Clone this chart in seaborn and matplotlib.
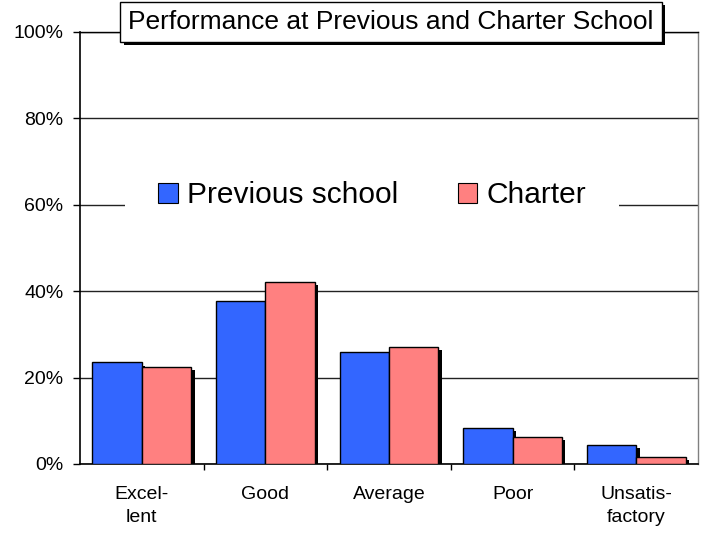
import matplotlib
matplotlib.use("Agg")
import matplotlib.pyplot as plt
import matplotlib.patheffects as pe
import seaborn as sns
import pandas as pd
from matplotlib.ticker import FixedLocator, FuncFormatter

categories = ["Excel-\nlent", "Good", "Average", "Poor", "Unsatis-\nfactory"]
series_names = ["Previous school", "Charter"]
previous_school = [23.5, 37.7, 25.9, 8.3, 4.4]
charter = [22.5, 42.2, 27.1, 6.2, 1.7]
y_ticks = [0, 20, 40, 60, 80, 100]
title = "Performance at Previous and Charter School"

df = pd.DataFrame({
    "cat": categories * 2,
    "val": previous_school + charter,
    "school": [series_names[0]] * 5 + [series_names[1]] * 5,
})

sns.set_theme(style="white")
plt.rcParams["font.family"] = ["Liberation Sans", "DejaVu Sans"]
plt.rcParams["text.color"] = "black"
plt.rcParams["xtick.color"] = "black"
plt.rcParams["ytick.color"] = "black"
plt.rcParams["axes.labelcolor"] = "black"

fig = plt.figure(figsize=(7.06, 5.35), dpi=100)
ax = fig.add_axes([80/706, 1-464/535, 618/706, 432/535])

sns.barplot(data=df, x="cat", y="val", hue="school", palette=["#3366FF", "#FF8080"],
            width=0.8, edgecolor="black", linewidth=1, saturation=1, ax=ax, zorder=3)

shadow = [pe.SimplePatchShadow(offset=(2.4, -2.2), shadow_rgbFace="black", alpha=1.0), pe.Normal()]
for p in ax.patches:
    p.set_path_effects(shadow)

ax.set_ylim(0, 100)
ax.set_xlim(-0.5, 4.5)
ax.set_yticks(y_ticks)
ax.yaxis.set_major_formatter(FuncFormatter(lambda v, _: f"{int(v)}%"))
ax.set_xlabel("")
ax.set_ylabel("")
ax.yaxis.grid(True, color="#222222", linewidth=1)
ax.set_axisbelow(True)
for g in ax.get_ygridlines():
    g.set_zorder(0)

ax.tick_params(axis="y", which="major", direction="out", length=5, width=1, color="black",
               pad=7, labelsize=14, labelcolor="black", left=True)
ax.tick_params(axis="x", which="major", length=0, pad=16, labelsize=14, labelcolor="black", bottom=True)
ax.xaxis.set_minor_locator(FixedLocator([0.5, 1.5, 2.5, 3.5]))
ax.tick_params(axis="x", which="minor", direction="out", length=4.5, width=1, color="black", bottom=True)
for lbl in ax.get_xticklabels():
    lbl.set_ha("center")
    lbl.set_linespacing(1.45)

for s in ["left", "bottom"]:
    ax.spines[s].set_color("black")
    ax.spines[s].set_linewidth(1.2)
ax.spines["top"].set_color("black")
ax.spines["top"].set_linewidth(1)
ax.spines["right"].set_color("#808080")
ax.spines["right"].set_linewidth(1)

handles, labels = ax.get_legend_handles_labels()
leg = ax.legend(handles, labels, ncol=2, loc="center", bbox_to_anchor=(0.4725, 0.622),
                fontsize=21.5, frameon=True, fancybox=False, edgecolor="white", facecolor="white",
                framealpha=1, handlelength=0.65, handleheight=0.65, handletextpad=0.3,
                columnspacing=2.0, borderpad=1.1, borderaxespad=0)
leg.get_frame().set_linewidth(0)
leg.set_zorder(5)
for h in leg.legend_handles:
    h.set_path_effects([])
    h.set_edgecolor("black")
    h.set_linewidth(0.8)

t = fig.text(391/706, 1-22/535, title, ha="center", va="center", fontsize=19, color="black",
             bbox=dict(boxstyle="square,pad=0.3", fc="white", ec="black", lw=1), zorder=10)
t.get_bbox_patch().set_path_effects([pe.SimplePatchShadow(offset=(2.4, -2.4), shadow_rgbFace="black", alpha=1.0), pe.Normal()])

fig.savefig("out.png", dpi=100)
